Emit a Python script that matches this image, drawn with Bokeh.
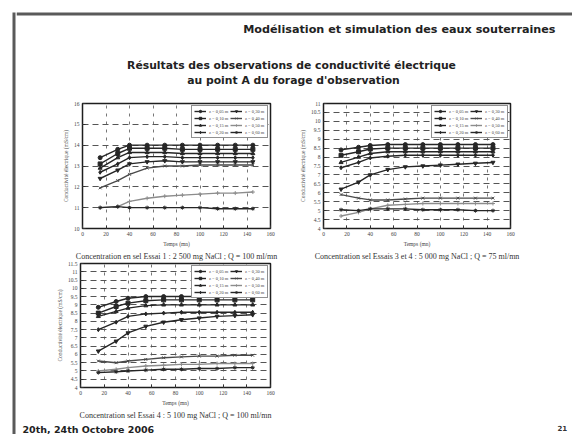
from bokeh.plotting import figure
from bokeh.layouts import row, column
from bokeh.models import (Range1d, FixedTicker, Title, Legend, LegendItem,
                          Label, BoxAnnotation)
from bokeh.embed import file_html
from bokeh.resources import INLINE

# ---- data -------------------------------------------------------------
temps = [15, 30, 40, 55, 70, 85, 100, 115, 130, 145]          # minutes
x_ticks = [0, 20, 40, 60, 80, 100, 120, 140, 160]

series_names = ["z = 0,05 m", "z = 0,10 m", "z = 0,15 m", "z = 0,20 m",
                "z = 0,30 m", "z = 0,40 m", "z = 0,50 m", "z = 0,60 m"]

# Essai 1
c1_yticks = [10, 11, 12, 13, 14, 15, 16]
c1_s1 = [13.4, 13.8, 14.0, 14.0, 14.0, 14.0, 14.0, 14.0, 14.0, 14.0]
c1_s2 = [13.1, 13.6, 13.85, 13.85, 13.85, 13.8, 13.8, 13.8, 13.8, 13.8]
c1_s3 = [12.9, 13.4, 13.65, 13.65, 13.65, 13.6, 13.6, 13.6, 13.6, 13.6]
c1_s4 = [12.7, 13.1, 13.4, 13.45, 13.45, 13.4, 13.4, 13.4, 13.4, 13.4]
c1_s5 = [12.4, 12.8, 13.1, 13.2, 13.25, 13.2, 13.2, 13.2, 13.2, 13.2]
c1_s6 = [11.95, 12.3, 12.6, 12.9, 13.0, 13.0, 13.05, 13.05, 13.05, 13.05]
c1_s7 = [11.0, 11.05, 11.3, 11.45, 11.55, 11.6, 11.65, 11.7, 11.7, 11.75]
c1_s8 = [11.0, 11.05, 11.0, 11.0, 11.0, 11.0, 11.0, 10.95, 10.95, 10.95]

# Essais 3 et 4
c2_yticks = [4, 4.5, 5, 5.5, 6, 6.5, 7, 7.5, 8, 8.5, 9, 9.5, 10, 10.5, 11]
c2_s1 = [8.4, 8.55, 8.65, 8.7, 8.7, 8.7, 8.7, 8.7, 8.7, 8.7]
c2_s2 = [8.1, 8.3, 8.45, 8.5, 8.5, 8.5, 8.5, 8.5, 8.5, 8.5]
c2_s3 = [7.7, 8.0, 8.2, 8.3, 8.3, 8.3, 8.3, 8.3, 8.3, 8.3]
c2_s4 = [7.4, 7.7, 7.95, 8.05, 8.1, 8.1, 8.1, 8.1, 8.1, 8.1]
c2_s5 = [6.2, 6.6, 7.0, 7.3, 7.45, 7.5, 7.55, 7.6, 7.65, 7.7]
c2_s6 = [5.9, 5.7, 5.6, 5.6, 5.65, 5.7, 5.7, 5.7, 5.7, 5.7]
c2_s7 = [4.7, 4.9, 5.1, 5.3, 5.35, 5.4, 5.4, 5.4, 5.4, 5.4]
c2_s8 = [5.05, 5.0, 5.1, 5.1, 5.1, 5.05, 5.05, 5.05, 5.0, 5.0]

# Essai 4
c3_yticks = [4, 4.5, 5, 5.5, 6, 6.5, 7, 7.5, 8, 8.5, 9, 9.5, 10, 10.5, 11, 11.5]
c3_s1 = [8.85, 9.2, 9.4, 9.5, 9.5, 9.5, 9.5, 9.5, 9.5, 9.5]
c3_s2 = [8.5, 8.9, 9.1, 9.25, 9.3, 9.3, 9.3, 9.3, 9.3, 9.3]
c3_s3 = [8.3, 8.6, 8.8, 8.95, 9.0, 9.0, 9.0, 9.0, 9.0, 9.0]
c3_s4 = [7.5, 7.95, 8.3, 8.45, 8.5, 8.55, 8.55, 8.55, 8.55, 8.55]
c3_s5 = [6.2, 6.8, 7.3, 7.7, 7.95, 8.1, 8.2, 8.3, 8.35, 8.4]
c3_s6 = [5.6, 5.5, 5.6, 5.7, 5.8, 5.85, 5.9, 5.9, 5.95, 5.95]
c3_s7 = [5.0, 5.1, 5.2, 5.3, 5.35, 5.4, 5.4, 5.45, 5.45, 5.45]
c3_s8 = [4.9, 4.95, 5.0, 5.05, 5.1, 5.1, 5.15, 5.15, 5.2, 5.2]

# ---- styling ------------------------------------------------------------
SERIF = "Liberation Serif"
SANS = "DejaVu Sans"
INK = "#262626"
MARKERS = ["circle", "square", "triangle", "diamond",
           "inverted_triangle", "x", "cross", "asterisk"]
COLORS = [INK, INK, INK, INK, INK, "#4a4a4a", "#8c8c8c", INK]
FRAME = "#5a5a5a"


def chart(w, h, left, right, top, bottom, y_lim, y_ticks, data, caption):
    p = figure(width=w, height=h, x_range=Range1d(0, 160),
               y_range=Range1d(*y_lim), output_backend="svg",
               toolbar_location=None, min_border_left=left,
               min_border_right=right, min_border_top=top,
               min_border_bottom=bottom)
    p.outline_line_color = "#1e1e1e"
    p.outline_line_width = 1.5
    for ax in (p.xaxis[0], p.yaxis[0]):
        ax.axis_line_color = None
        ax.major_tick_in = 3
        ax.major_tick_out = 0
        ax.major_tick_line_color = "#333333"
        ax.minor_tick_line_color = None
        ax.major_label_text_font = SERIF
        ax.major_label_text_font_size = "5.5px"
        ax.major_label_text_color = "#444444"
        ax.major_label_standoff = 3
        ax.axis_label_text_font = SERIF
        ax.axis_label_text_font_size = "5.5px"
        ax.axis_label_text_font_style = "normal"
        ax.axis_label_text_color = "#444444"
        ax.axis_label_standoff = 2
    p.xaxis.ticker = FixedTicker(ticks=x_ticks)
    p.yaxis.ticker = FixedTicker(ticks=y_ticks)
    p.xgrid.ticker = FixedTicker(ticks=x_ticks)
    p.ygrid.ticker = FixedTicker(ticks=y_ticks)
    p.xaxis.axis_label = "Temps (mn)"
    p.yaxis.axis_label = "Conductivité électrique (mS/cm)"
    for g in (p.xgrid[0], p.ygrid[0]):
        g.level = "image"
        g.grid_line_alpha = 1.0
    p.ygrid.grid_line_color = "#555555"
    p.ygrid.grid_line_dash = "6 4"
    p.ygrid.grid_line_width = 1
    p.xgrid.grid_line_color = "#777777"
    p.xgrid.grid_line_dash = "3 5"
    p.xgrid.grid_line_width = 1

    items = []
    for i, ys in enumerate(data):
        col = COLORS[i]
        ln = p.line(temps, ys, line_color=col, line_width=1.4)
        mk = p.scatter(temps, ys, marker=MARKERS[i], size=4,
                       line_color=col, fill_color=col)
        items.append(LegendItem(label=series_names[i], renderers=[ln, mk]))
    leg = Legend(items=items, location="top_right", ncols=2,
                 label_text_font=SERIF, label_text_font_size="4.5px",
                 label_text_color="#444444", glyph_width=12, glyph_height=6,
                 label_height=6, label_standoff=3, spacing=1, padding=2,
                 margin=2, border_line_color="#222222", border_line_width=1.2,
                 background_fill_alpha=1.0)
    p.add_layout(leg)
    p.add_layout(Title(text=caption, align="center", text_font=SERIF,
                       text_font_size="8px", text_font_style="normal",
                       text_color="#333333", standoff=1), "below")
    return p


fig1 = chart(274, 161, 66, 20, 3, 32, (10, 16), c1_yticks,
             [c1_s1, c1_s2, c1_s3, c1_s4, c1_s5, c1_s6, c1_s7, c1_s8],
             "Concentration en sel Essai 1 : 2 500 mg NaCl ; Q = 100 ml/mn")
fig2 = chart(282, 161, 33, 62, 3, 32, (4, 11), c2_yticks,
             [c2_s1, c2_s2, c2_s3, c2_s4, c2_s5, c2_s6, c2_s7, c2_s8],
             "Concentration sel Essais 3 et 4 : 5 000 mg NaCl ; Q = 75 ml/mn")
fig3 = chart(274, 159, 64, 20, 2, 30, (4, 11.5), c3_yticks,
             [c3_s1, c3_s2, c3_s3, c3_s4, c3_s5, c3_s6, c3_s7, c3_s8],
             "Concentration sel Essai 4 : 5 100 mg NaCl ; Q = 100 ml/mn")


def blank(w, h):
    p = figure(width=w, height=h, x_range=Range1d(0, w), y_range=Range1d(0, h),
               output_backend="svg", toolbar_location=None, min_border=0,
               x_axis_location=None, y_axis_location=None)
    p.outline_line_color = None
    p.grid.visible = False
    return p


# slide frame: left edge
strip = blank(16, 434)
strip.add_layout(BoxAnnotation(left=12, right=15, bottom=0, top=422,
                               fill_color=FRAME, fill_alpha=1, line_color=None))

# slide header: top edge, running title and slide title
header = blank(556, 100)
header.add_layout(BoxAnnotation(left=0, right=556, bottom=85, top=88,
                                fill_color=FRAME, fill_alpha=1, line_color=None))
header.add_layout(Label(x=539, y=71, text="Modélisation et simulation des eaux souterraines",
                        text_align="right", text_baseline="middle",
                        text_font=SANS, text_font_size="11.2px",
                        text_font_style="bold", text_color="#222222"))
header.add_layout(Label(x=275, y=35, text="Résultats des observations de conductivité électrique",
                        text_align="center", text_baseline="middle",
                        text_font=SANS, text_font_size="10.8px",
                        text_font_style="bold", text_color="#222222"))
header.add_layout(Label(x=277, y=20, text="au point A du forage d'observation",
                        text_align="center", text_baseline="middle",
                        text_font=SANS, text_font_size="10.8px",
                        text_font_style="bold", text_color="#222222"))

# slide footer: date and page number
footer = blank(556, 14)
footer.add_layout(Label(x=6, y=5, text="20th, 24th Octobre 2006",
                        text_align="left", text_baseline="middle",
                        text_font=SANS, text_font_size="9.5px",
                        text_font_style="bold", text_color="#222222"))
footer.add_layout(Label(x=541, y=7, text="21", text_align="left",
                        text_baseline="middle", text_font=SANS,
                        text_font_size="7px", text_font_style="bold",
                        text_color="#333333"))

page = row(strip, column(header, row(fig1, fig2), row(fig3), footer))

open("out.html", "w").write(file_html(page, INLINE))
